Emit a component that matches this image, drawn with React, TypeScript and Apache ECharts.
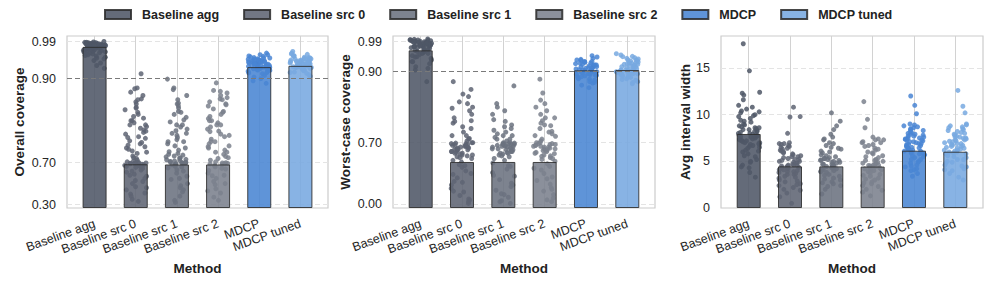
import React, { useEffect, useRef } from 'react';
import * as echarts from 'echarts';

// ---------------- data ----------------
const CATEGORIES = ['Baseline agg', 'Baseline src 0', 'Baseline src 1', 'Baseline src 2', 'MDCP', 'MDCP tuned'];

const OVERALL_TICKS = [0.3, 0.7, 0.9, 0.99];
const OVERALL_TICK_LABELS = ['0.30', '0.70', '0.90', '0.99'];
const WORST_TICKS = [0.0, 0.7, 0.9, 0.99];
const WORST_TICK_LABELS = ['0.00', '0.70', '0.90', '0.99'];
const WIDTH_TICKS = [0, 5, 10, 15];
const TARGET = 0.9;

const OVERALL_MEANS = [0.977, 0.685, 0.683, 0.683, 0.928, 0.931];
const WORST_MEANS = [0.964, 0.481, 0.481, 0.481, 0.904, 0.905];
const WIDTH_MEANS = [7.93, 4.46, 4.46, 4.44, 6.14, 6.03];

const OVERALL_AGG = [0.99, 0.988, 0.987, 0.986, 0.985, 0.985, 0.984, 0.983, 0.983, 0.982, 0.981, 0.981, 0.98, 0.98, 0.979, 0.978, 0.978, 0.977, 0.976, 0.976, 0.975, 0.974, 0.973, 0.972, 0.971, 0.97, 0.969, 0.968, 0.966, 0.965, 0.963, 0.962, 0.96, 0.958, 0.955, 0.952, 0.948, 0.944, 0.938, 0.932, 0.925, 0.989, 0.987, 0.984, 0.982, 0.979, 0.977, 0.988, 0.986, 0.985, 0.984, 0.983, 0.982, 0.981, 0.98, 0.979, 0.978, 0.977, 0.975, 0.973, 0.971, 0.968, 0.965, 0.96, 0.956, 0.95];
const OVERALL_SRC0 = [0.912, 0.878, 0.876, 0.868, 0.86, 0.852, 0.845, 0.84, 0.832, 0.826, 0.82, 0.815, 0.81, 0.806, 0.8, 0.795, 0.79, 0.786, 0.782, 0.778, 0.772, 0.768, 0.762, 0.758, 0.752, 0.748, 0.742, 0.738, 0.732, 0.728, 0.722, 0.716, 0.712, 0.706, 0.702, 0.7, 0.698, 0.695, 0.69, 0.685, 0.68, 0.672, 0.665, 0.655, 0.645, 0.63, 0.61, 0.59, 0.57, 0.55, 0.53, 0.5, 0.47, 0.44, 0.41, 0.38, 0.35, 0.33, 0.85, 0.83, 0.8, 0.79, 0.775, 0.76, 0.745, 0.735, 0.725, 0.71, 0.704, 0.7, 0.696, 0.69, 0.675, 0.66, 0.62, 0.58, 0.52, 0.46, 0.4];
const OVERALL_SRC1 = [0.899, 0.878, 0.874, 0.86, 0.85, 0.842, 0.835, 0.83, 0.822, 0.815, 0.808, 0.802, 0.797, 0.79, 0.785, 0.78, 0.776, 0.77, 0.765, 0.76, 0.755, 0.75, 0.745, 0.74, 0.735, 0.73, 0.726, 0.722, 0.718, 0.714, 0.71, 0.707, 0.704, 0.702, 0.7, 0.698, 0.694, 0.69, 0.684, 0.676, 0.665, 0.65, 0.63, 0.6, 0.57, 0.54, 0.5, 0.46, 0.42, 0.38, 0.34, 0.32, 0.72, 0.716, 0.712, 0.708, 0.705, 0.703, 0.701, 0.699, 0.697, 0.79, 0.77, 0.75, 0.82, 0.84, 0.68, 0.66, 0.62, 0.55, 0.48, 0.44];
const OVERALL_SRC2 = [0.89, 0.872, 0.866, 0.86, 0.855, 0.85, 0.845, 0.84, 0.835, 0.828, 0.822, 0.815, 0.81, 0.805, 0.8, 0.795, 0.79, 0.785, 0.78, 0.774, 0.768, 0.762, 0.756, 0.75, 0.745, 0.74, 0.735, 0.73, 0.725, 0.72, 0.715, 0.71, 0.706, 0.702, 0.698, 0.693, 0.688, 0.68, 0.67, 0.66, 0.645, 0.625, 0.6, 0.575, 0.55, 0.52, 0.49, 0.45, 0.41, 0.37, 0.34, 0.87, 0.852, 0.838, 0.82, 0.8, 0.79, 0.775, 0.765, 0.75, 0.738, 0.725, 0.712, 0.7, 0.69, 0.675, 0.64, 0.58, 0.5, 0.43];
const OVERALL_MDCP = [0.962, 0.958, 0.955, 0.953, 0.951, 0.95, 0.948, 0.947, 0.945, 0.944, 0.943, 0.942, 0.941, 0.94, 0.939, 0.938, 0.937, 0.936, 0.935, 0.934, 0.933, 0.932, 0.931, 0.93, 0.929, 0.928, 0.927, 0.926, 0.925, 0.924, 0.922, 0.92, 0.918, 0.915, 0.912, 0.908, 0.904, 0.9, 0.895, 0.889, 0.946, 0.94, 0.936, 0.932, 0.958, 0.954, 0.95, 0.947, 0.944, 0.942, 0.94, 0.938, 0.936, 0.934, 0.932, 0.93, 0.928, 0.926, 0.924, 0.921, 0.918, 0.914];
const OVERALL_TUNED = [0.966, 0.962, 0.959, 0.956, 0.954, 0.952, 0.95, 0.949, 0.948, 0.946, 0.945, 0.944, 0.943, 0.942, 0.941, 0.94, 0.939, 0.938, 0.937, 0.936, 0.935, 0.934, 0.933, 0.932, 0.931, 0.93, 0.929, 0.928, 0.927, 0.926, 0.925, 0.923, 0.921, 0.919, 0.916, 0.913, 0.91, 0.906, 0.947, 0.941, 0.937, 0.933, 0.96, 0.955, 0.951, 0.948, 0.945, 0.943, 0.941, 0.939, 0.937, 0.935, 0.933, 0.931, 0.929, 0.927, 0.924, 0.92, 0.915];

const WORST_AGG = [0.998, 0.996, 0.995, 0.994, 0.993, 0.992, 0.991, 0.99, 0.989, 0.988, 0.987, 0.986, 0.985, 0.984, 0.983, 0.982, 0.981, 0.98, 0.979, 0.978, 0.977, 0.976, 0.975, 0.974, 0.972, 0.97, 0.968, 0.966, 0.964, 0.961, 0.958, 0.955, 0.952, 0.948, 0.944, 0.94, 0.935, 0.93, 0.924, 0.915, 0.905, 0.872, 0.99, 0.985, 0.98, 0.997, 0.995, 0.993, 0.991, 0.989, 0.987, 0.985, 0.983, 0.981, 0.979, 0.977, 0.975, 0.972, 0.969, 0.965, 0.96, 0.955, 0.945, 0.93, 0.91];
const WORST_SRC0 = [0.872, 0.85, 0.837, 0.83, 0.815, 0.81, 0.797, 0.79, 0.78, 0.77, 0.762, 0.755, 0.745, 0.74, 0.73, 0.72, 0.712, 0.705, 0.7, 0.695, 0.69, 0.68, 0.67, 0.66, 0.65, 0.64, 0.63, 0.62, 0.61, 0.6, 0.59, 0.58, 0.57, 0.56, 0.55, 0.54, 0.52, 0.5, 0.48, 0.45, 0.42, 0.38, 0.34, 0.3, 0.26, 0.22, 0.18, 0.14, 0.1, 0.06, 0.03, 0.01, 0.72, 0.71, 0.7, 0.69, 0.68, 0.67, 0.66, 0.65, 0.64, 0.63, 0.62, 0.6, 0.58, 0.56, 0.53, 0.76, 0.8, 0.44, 0.35, 0.25, 0.15, 0.05];
const WORST_SRC1 = [0.86, 0.81, 0.8, 0.78, 0.765, 0.76, 0.75, 0.745, 0.735, 0.73, 0.725, 0.72, 0.715, 0.71, 0.705, 0.7, 0.695, 0.69, 0.685, 0.68, 0.67, 0.665, 0.66, 0.65, 0.64, 0.63, 0.62, 0.61, 0.6, 0.59, 0.58, 0.57, 0.56, 0.54, 0.52, 0.5, 0.47, 0.44, 0.4, 0.36, 0.32, 0.28, 0.24, 0.2, 0.16, 0.12, 0.08, 0.04, 0.01, 0.74, 0.72, 0.71, 0.7, 0.69, 0.68, 0.67, 0.66, 0.65, 0.64, 0.63, 0.62, 0.6, 0.58, 0.55, 0.79, 0.43, 0.33, 0.22, 0.11, 0.03];
const WORST_SRC2 = [0.879, 0.84, 0.81, 0.8, 0.79, 0.78, 0.77, 0.762, 0.755, 0.748, 0.74, 0.732, 0.725, 0.718, 0.71, 0.705, 0.7, 0.69, 0.68, 0.67, 0.66, 0.65, 0.64, 0.63, 0.62, 0.61, 0.6, 0.59, 0.575, 0.56, 0.545, 0.53, 0.51, 0.49, 0.46, 0.43, 0.39, 0.35, 0.31, 0.27, 0.23, 0.19, 0.15, 0.11, 0.07, 0.03, 0.77, 0.75, 0.73, 0.72, 0.7, 0.69, 0.68, 0.67, 0.66, 0.65, 0.63, 0.61, 0.58, 0.55, 0.52, 0.82, 0.41, 0.29, 0.17, 0.05];
const WORST_MDCP = [0.948, 0.944, 0.94, 0.937, 0.934, 0.931, 0.928, 0.926, 0.924, 0.922, 0.92, 0.918, 0.916, 0.914, 0.912, 0.91, 0.908, 0.906, 0.904, 0.902, 0.9, 0.898, 0.896, 0.894, 0.892, 0.89, 0.888, 0.885, 0.882, 0.879, 0.876, 0.872, 0.868, 0.862, 0.855, 0.92, 0.91, 0.9, 0.93, 0.895, 0.935, 0.93, 0.925, 0.92, 0.915, 0.912, 0.908, 0.905, 0.902, 0.9, 0.897, 0.893, 0.89, 0.886, 0.88, 0.87];
const WORST_TUNED = [0.954, 0.95, 0.946, 0.942, 0.938, 0.935, 0.932, 0.929, 0.926, 0.924, 0.922, 0.92, 0.918, 0.916, 0.914, 0.912, 0.91, 0.908, 0.906, 0.904, 0.902, 0.9, 0.898, 0.896, 0.894, 0.892, 0.89, 0.887, 0.884, 0.88, 0.876, 0.872, 0.866, 0.925, 0.915, 0.905, 0.935, 0.897, 0.945, 0.94, 0.933, 0.928, 0.922, 0.918, 0.913, 0.909, 0.905, 0.902, 0.899, 0.895, 0.89, 0.885, 0.878, 0.87];

const WIDTH_AGG = [17.6, 14.7, 12.4, 12.3, 12.1, 11.6, 11.0, 10.6, 10.4, 10.2, 10.0, 9.8, 9.6, 9.4, 9.2, 9.0, 8.8, 8.7, 8.5, 8.4, 8.2, 8.1, 8.0, 7.9, 7.8, 7.7, 7.6, 7.5, 7.4, 7.3, 7.2, 7.1, 7.0, 6.9, 6.8, 6.6, 6.4, 6.2, 6.0, 5.8, 5.5, 5.2, 4.9, 4.6, 4.3, 3.8, 3.3, 8.6, 8.3, 7.65, 7.25, 6.7, 9.9, 9.3, 8.9, 8.6, 8.4, 8.2, 8.0, 7.8, 7.6, 7.4, 7.2, 7.0, 6.8, 6.5, 6.1, 5.6, 5.0, 4.4, 10.8, 10.3];
const WIDTH_SRC0 = [10.8, 9.8, 9.75, 8.0, 7.0, 6.9, 6.8, 6.7, 6.5, 6.3, 6.2, 6.0, 5.9, 5.7, 5.6, 5.4, 5.3, 5.2, 5.1, 5.0, 4.9, 4.8, 4.7, 4.6, 4.5, 4.4, 4.3, 4.2, 4.1, 4.0, 3.9, 3.8, 3.7, 3.6, 3.4, 3.2, 3.0, 2.8, 2.6, 2.4, 2.2, 1.9, 1.6, 1.2, 0.5, 4.55, 4.35, 5.5, 6.9, 6.6, 6.4, 6.1, 5.8, 5.5, 5.2, 5.0, 4.8, 4.6, 4.5, 4.3, 4.1, 3.9, 3.6, 3.3, 2.9, 2.5, 2.0];
const WIDTH_SRC1 = [10.2, 9.3, 8.8, 8.4, 7.9, 7.6, 7.3, 7.0, 6.7, 6.5, 6.3, 6.1, 5.9, 5.7, 5.5, 5.4, 5.3, 5.2, 5.1, 5.0, 4.9, 4.8, 4.7, 4.6, 4.5, 4.4, 4.3, 4.2, 4.1, 4.0, 3.9, 3.8, 3.6, 3.4, 3.2, 3.0, 2.8, 2.6, 2.3, 2.0, 1.5, 4.65, 4.45, 5.15, 7.4, 6.9, 6.4, 6.0, 5.6, 5.3, 5.1, 4.9, 4.7, 4.5, 4.3, 4.1, 3.9, 3.5, 3.1, 2.7, 2.4];
const WIDTH_SRC2 = [11.4, 9.5, 8.6, 7.6, 7.4, 7.3, 7.1, 7.0, 6.8, 6.6, 6.4, 6.2, 6.0, 5.8, 5.6, 5.4, 5.2, 5.0, 4.9, 4.8, 4.7, 4.6, 4.5, 4.4, 4.3, 4.2, 4.1, 4.0, 3.8, 3.6, 3.4, 3.2, 3.0, 2.8, 2.6, 2.3, 2.0, 1.7, 1.3, 4.55, 4.35, 5.1, 7.3, 7.0, 6.7, 6.3, 5.9, 5.5, 5.1, 4.8, 4.6, 4.4, 4.2, 3.9, 3.5, 3.1, 2.7, 2.4, 1.9];
const WIDTH_MDCP = [12.0, 11.0, 10.1, 9.0, 8.9, 8.7, 8.6, 8.4, 8.3, 8.2, 8.0, 7.9, 7.8, 7.6, 7.5, 7.4, 7.3, 7.2, 7.1, 7.0, 6.9, 6.8, 6.7, 6.6, 6.5, 6.4, 6.3, 6.2, 6.1, 6.0, 5.9, 5.8, 5.6, 5.4, 5.2, 5.0, 4.8, 4.6, 4.4, 4.2, 4.0, 3.7, 3.4, 7.7, 7.35, 6.85, 6.45, 8.8, 8.5, 8.1, 7.9, 7.7, 7.5, 7.3, 7.1, 6.9, 6.7, 6.5, 6.3, 6.1, 5.9, 5.7, 5.5, 5.2, 4.9, 4.5, 4.1];
const WIDTH_TUNED = [12.6, 10.9, 10.2, 9.0, 8.9, 8.7, 8.5, 8.3, 8.2, 8.0, 7.8, 7.7, 7.6, 7.5, 7.4, 7.3, 7.2, 7.0, 6.9, 6.8, 6.7, 6.6, 6.5, 6.4, 6.3, 6.2, 6.1, 6.0, 5.9, 5.8, 5.6, 5.4, 5.2, 5.0, 4.8, 4.6, 4.4, 4.2, 4.0, 3.7, 3.3, 3.0, 7.45, 7.15, 6.75, 8.8, 8.6, 8.4, 8.1, 7.9, 7.6, 7.3, 7.1, 6.9, 6.6, 6.4, 6.2, 6.0, 5.8, 5.5, 5.2, 4.9, 4.5, 4.1];

// ---------------- styles / layout ----------------
const COLORS = ['#4f5766', '#5e6473', '#6b727f', '#7b818d', '#4985d3', '#78a9e0'];
const FONT = '"Liberation Sans", Arial, Helvetica, sans-serif';
const GRID_TOP = 36;
const GRID_H = 172;

// piecewise-linear scale: value -> px above plot bottom
function makeScale(ticks: number[], pos: number[]) {
  return (v: number) => {
    const n = ticks.length;
    let i = 0;
    if (v <= ticks[0]) i = 0;
    else if (v >= ticks[n - 1]) i = n - 2;
    else {
      for (let k = 0; k < n - 1; k++) if (v >= ticks[k] && v <= ticks[k + 1]) { i = k; break; }
    }
    const t = (v - ticks[i]) / (ticks[i + 1] - ticks[i]);
    return pos[i] + t * (pos[i + 1] - pos[i]);
  };
}

function jitter(k: number, seed: number) {
  const s = Math.sin((k + 1) * 12.9898 + seed * 78.233) * 43758.5453;
  return (s - Math.floor(s) - 0.5) * 2 * 0.27;
}

export default function App() {
  const ref = useRef<HTMLDivElement>(null);
  useEffect(() => {
    if (!ref.current) return;
    const chart = echarts.init(ref.current, undefined, { renderer: 'svg' });

    const overallPos = [3.5, 45.3, 129.3, 166.5];
    const worstPos = [3.7, 65.3, 136.3, 166.3];
    const fOverall = makeScale(OVERALL_TICKS, overallPos);
    const fWorst = makeScale(WORST_TICKS, worstPos);
    const fWidth = (v: number) => v;

    const panels = [
      {
        left: 67, width: 261, name: 'Overall coverage', nameGap: 41, f: fOverall,
        means: OVERALL_MEANS,
        pts: [OVERALL_AGG, OVERALL_SRC0, OVERALL_SRC1, OVERALL_SRC2, OVERALL_MDCP, OVERALL_TUNED],
        tickPos: overallPos, tickLabels: OVERALL_TICK_LABELS, max: GRID_H, target: true,
      },
      {
        left: 393, width: 262, name: 'Worst-case coverage', nameGap: 41, f: fWorst,
        means: WORST_MEANS,
        pts: [WORST_AGG, WORST_SRC0, WORST_SRC1, WORST_SRC2, WORST_MDCP, WORST_TUNED],
        tickPos: worstPos, tickLabels: WORST_TICK_LABELS, max: GRID_H, target: true,
      },
      {
        left: 721, width: 262, name: 'Avg interval width', nameGap: 29, f: fWidth,
        means: WIDTH_MEANS,
        pts: [WIDTH_AGG, WIDTH_SRC0, WIDTH_SRC1, WIDTH_SRC2, WIDTH_MDCP, WIDTH_TUNED],
        tickPos: WIDTH_TICKS, tickLabels: WIDTH_TICKS.map(String), max: 18.43, target: false,
      },
    ];

    const labelColor = '#262626';
    const grids: any[] = [];
    const xAxes: any[] = [];
    const yAxes: any[] = [];
    const series: any[] = [];
    const catPos = CATEGORIES.map((_, i) => i);

    panels.forEach((p, pi) => {
      grids.push({
        left: p.left, top: GRID_TOP, width: p.width, height: GRID_H,
        show: true, borderColor: '#cccccc', borderWidth: 1.2, backgroundColor: 'transparent',
        containLabel: false, outerBoundsMode: 'none',
      });
      xAxes.push({
        gridIndex: pi, type: 'value', min: -0.67, max: 5.67,
        axisLine: { show: false },
        axisTick: { show: false, customValues: catPos },
        axisLabel: {
          customValues: catPos,
          formatter: (v: number) => CATEGORIES[Math.round(v)] ?? '',
          rotate: 20, margin: 15, fontSize: 12.5, color: labelColor, fontFamily: FONT,
        },
        splitLine: { show: true, lineStyle: { color: '#d2d2d2', width: 1 } },
        name: 'Method', nameLocation: 'middle', nameGap: 52,
        nameTextStyle: { fontWeight: 'bold', fontSize: 13.5, color: '#222222', fontFamily: FONT },
      });
      const tp = p.tickPos;
      yAxes.push({
        gridIndex: pi, type: 'value', min: 0, max: p.max,
        axisLine: { show: false },
        axisTick: { show: false, customValues: tp },
        axisLabel: {
          customValues: tp,
          formatter: (v: number) => {
            let best = 0;
            for (let k = 1; k < tp.length; k++) if (Math.abs(tp[k] - v) < Math.abs(tp[best] - v)) best = k;
            return p.tickLabels[best];
          },
          margin: 11, fontSize: 12.5, color: labelColor, fontFamily: FONT,
        },
        splitLine: { show: true, lineStyle: { color: '#e4e4e4', width: 1, type: [5, 3] } },
        name: p.name, nameLocation: 'middle', nameRotate: 90, nameGap: p.nameGap,
        nameTextStyle: { fontWeight: 'bold', fontSize: 13.5, color: '#222222', fontFamily: FONT },
      });

      CATEGORIES.forEach((cat, i) => {
        const bar: any = {
          type: 'bar', name: cat, xAxisIndex: pi, yAxisIndex: pi,
          data: [[i, p.f(p.means[i])]],
          barWidth: 24, barGap: '-100%',
          itemStyle: { color: COLORS[i], opacity: 0.88, borderColor: '#2e2e2e', borderWidth: 1 },
          z: 3, silent: true,
        };
        if (i === 0 && p.target) {
          bar.markLine = {
            silent: true, symbol: 'none', label: { show: false }, z: 6,
            lineStyle: { color: '#7a7a7a', width: 1.2, type: [5, 3] },
            data: [{ yAxis: p.f(TARGET) }],
          };
        }
        series.push(bar);
        series.push({
          type: 'scatter', name: 'pts-' + pi + '-' + i, xAxisIndex: pi, yAxisIndex: pi,
          data: p.pts[i].map((v, k) => [i + jitter(k, pi * 6 + i), p.f(v)]),
          symbolSize: 5,
          itemStyle: { color: COLORS[i], opacity: 0.85 },
          z: 2, silent: true,
        });
      });
    });

    chart.setOption({
      animation: false,
      backgroundColor: '#ffffff',
      textStyle: { fontFamily: FONT },
      legend: {
        data: CATEGORIES, left: 104, top: 8, padding: 0, itemWidth: 26, itemHeight: 9, itemGap: 24,
        icon: 'rect', selectedMode: false,
        textStyle: { fontFamily: FONT, fontSize: 12.5, fontWeight: 'bold', color: '#222222', padding: [0, 0, 0, 6] },
      },
      grid: grids,
      xAxis: xAxes,
      yAxis: yAxes,
      series,
    });
    return () => chart.dispose();
  }, []);
  return <div ref={ref} style={{ position: 'fixed', left: 0, top: 0, width: 996, height: 283 }} />;
}
